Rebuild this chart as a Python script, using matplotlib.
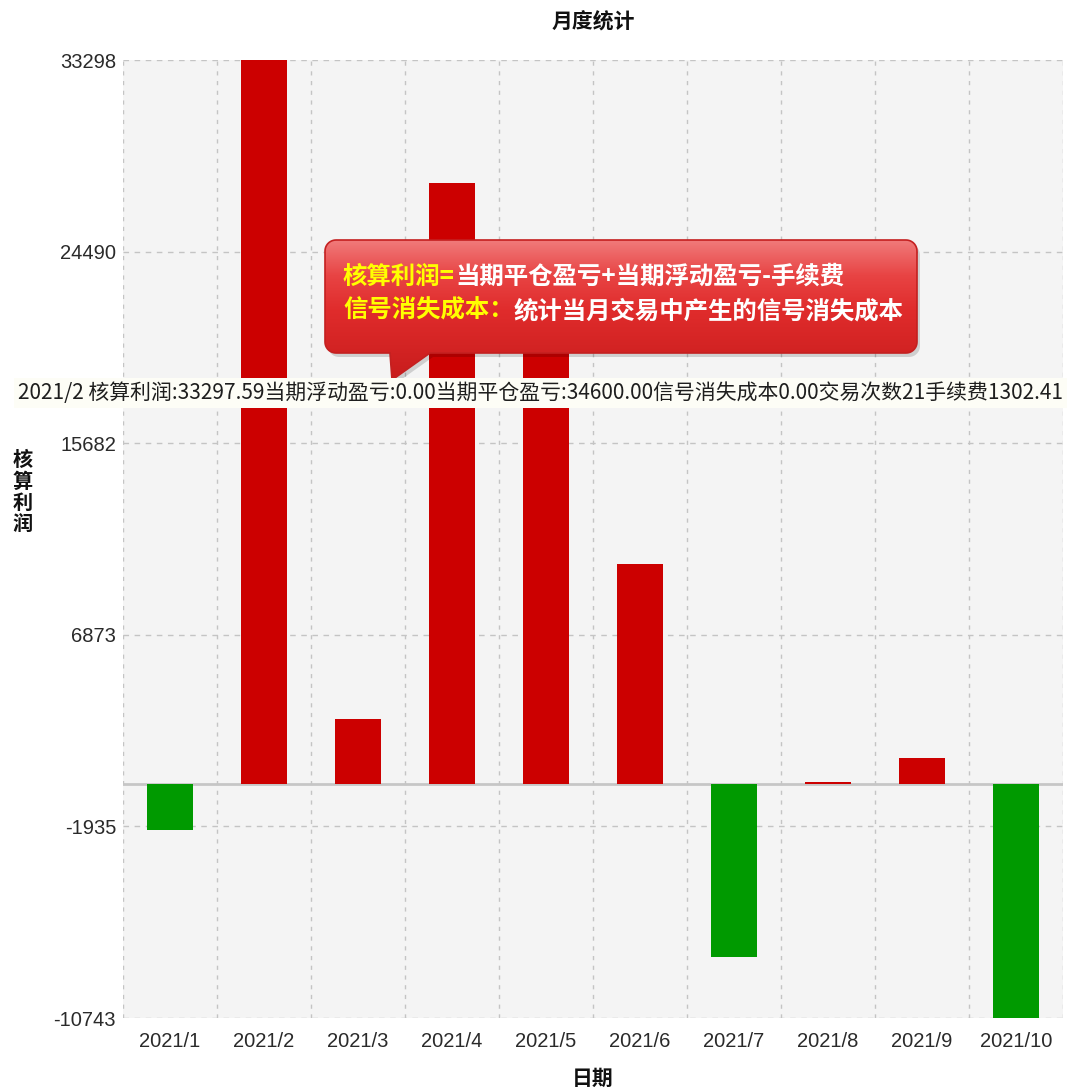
import numpy as np
import matplotlib
matplotlib.use("Agg")
import matplotlib.pyplot as plt
from matplotlib.path import Path
from matplotlib.patches import PathPatch
from matplotlib.colors import LinearSegmentedColormap

plt.rcParams['font.family'] = ['Noto Sans CJK SC', 'DejaVu Sans']

# ---------------- data ----------------
months = ['2021/1', '2021/2', '2021/3', '2021/4', '2021/5',
          '2021/6', '2021/7', '2021/8', '2021/9', '2021/10']
profit = [-2100, 33297.59, 3000, 27650, 21000, 10150, -7950, 90, 1200, -10742.6]

title = '月度统计'
ylabel = '核算利润'
xlabel = '日期'
tip_line1 = ['核算利润=', '当期平仓盈亏+当期浮动盈亏-手续费']
tip_line2 = ['信号消失成本：', '统计当月交易中产生的信号消失成本']
info_line = ('2021/2 核算利润:33297.59当期浮动盈亏:0.00当期平仓盈亏:34600.00'
             '信号消失成本0.00交易次数21手续费1302.41')

POS_COLOR = '#cc0000'
NEG_COLOR = '#009a00'

# ---------------- figure ----------------
W, H = 1067, 1091
fig = plt.figure(figsize=(W / 100, H / 100), dpi=100, facecolor='white')
ax = fig.add_axes([123 / W, 1 - 1018 / H, (1063 - 123) / W, (1018 - 60) / H])
ax.set_facecolor('#f4f4f4')

x = np.arange(len(months))
vals = np.array(profit)
colors = [POS_COLOR if v >= 0 else NEG_COLOR for v in vals]
ax.bar(x, vals, width=0.48, color=colors, zorder=3)

ymin, ymax = vals.min(), vals.max()
ax.set_ylim(ymin, ymax)
ax.set_xlim(-0.5, len(months) - 0.5)
yticks = np.linspace(ymin, ymax, 6)
ax.set_yticks(yticks)
ax.set_yticklabels(['%d' % round(t) for t in yticks])
ax.set_xticks(x)
ax.set_xticklabels(months)
ax.set_xticks(np.arange(-0.5, len(months), 1.0), minor=True)

for s in ax.spines.values():
    s.set_visible(False)
ax.tick_params(axis='both', which='both', length=0)
ax.tick_params(axis='y', pad=5)
ax.tick_params(axis='x', pad=10)
for lab in ax.get_yticklabels() + ax.get_xticklabels():
    lab.set_family(['Liberation Sans', 'DejaVu Sans'])
    lab.set_fontsize(14.5)
    lab.set_color('#2a2a2a')

ax.yaxis.grid(True, which='major', linestyle=(0, (4, 4)), color='#c4c4c4', lw=1, zorder=1)
ax.xaxis.grid(True, which='minor', linestyle=(0, (3, 4)), color='#c4c4c4', lw=1, zorder=1)
ax.xaxis.grid(False, which='major')
ax.set_axisbelow(True)
ax.axhline(0, color='#c6c6c6', lw=2, zorder=2)

# titles / labels
fig.text(593 / W, 1 - 22 / H, title, ha='center', va='center',
         fontsize=15, fontweight='bold', color='#111111')
fig.text(593 / W, 1 - 1078 / H, xlabel, ha='center', va='center',
         fontsize=15, fontweight='bold', color='#111111')
fig.text(23 / W, 1 - 492 / H, '\n'.join(ylabel), ha='center', va='center',
         fontsize=14.5, fontweight='bold', color='#111111', linespacing=1.05)

# ---------------- overlay (tooltip + hover info) ----------------
ov = fig.add_axes([0, 0, 1, 1], zorder=5)
ov.set_xlim(0, W)
ov.set_ylim(H, 0)
ov.axis('off')
ov.patch.set_alpha(0)

# info band
ov.text(18, 393, info_line, ha='left', va='center', fontsize=15.0, color='#1e1e1e',
        bbox=dict(boxstyle='square,pad=0.2', facecolor='#fdfdf6', edgecolor='none'))

# tooltip path
x0, x1, y0, y1, r = 325, 917, 240, 353, 11
pts = []
def arc(cx, cy, a0, a1):
    for a in np.linspace(a0, a1, 10):
        pts.append((cx + r * np.cos(a), cy + r * np.sin(a)))
arc(x0 + r, y0 + r, np.pi, 1.5 * np.pi)
arc(x1 - r, y0 + r, 1.5 * np.pi, 2 * np.pi)
arc(x1 - r, y1 - r, 0, 0.5 * np.pi)
pts.append((430, y1))
pts.append((392, 380))
pts.append((390, y1))
arc(x0 + r, y1 - r, 0.5 * np.pi, np.pi)
pts.append(pts[0])
codes = [Path.MOVETO] + [Path.LINETO] * (len(pts) - 2) + [Path.CLOSEPOLY]
path = Path(pts, codes)

shadow = PathPatch(Path([(px + 3, py + 4) for px, py in pts], codes),
                   facecolor='#000000', alpha=0.15, edgecolor='none')
ov.add_patch(shadow)
patch = PathPatch(path, facecolor='none', edgecolor='#c42020', lw=1.2)
ov.add_patch(patch)
cmap = LinearSegmentedColormap.from_list('tip', ['#f07a7a', '#e84444', '#e02c2c', '#d42424', '#c81c1c'])
grad = np.linspace(0, 1, 200).reshape(-1, 1)
im = ov.imshow(grad, cmap=cmap, extent=(x0, x1, 380, y0), aspect='auto', origin='upper', zorder=1)
im.set_clip_path(patch)
patch.set_zorder(2)

def colored_line(xp, yp, parts, cols):
    t = ov.text(xp, yp, parts[0], ha='left', va='center', fontsize=17.6, fontweight='bold',
                color=cols[0], zorder=3)
    ov.annotate(parts[1], xy=(1, 0), xycoords=t, ha='left', va='bottom',
                fontsize=17.6, fontweight='bold', color=cols[1], zorder=3)

colored_line(343, 277, tip_line1, ['#ffff00', '#ffffff'])
colored_line(343, 311, tip_line2, ['#ffff00', '#ffffff'])

fig.savefig('out.png', dpi=100, facecolor='white')
